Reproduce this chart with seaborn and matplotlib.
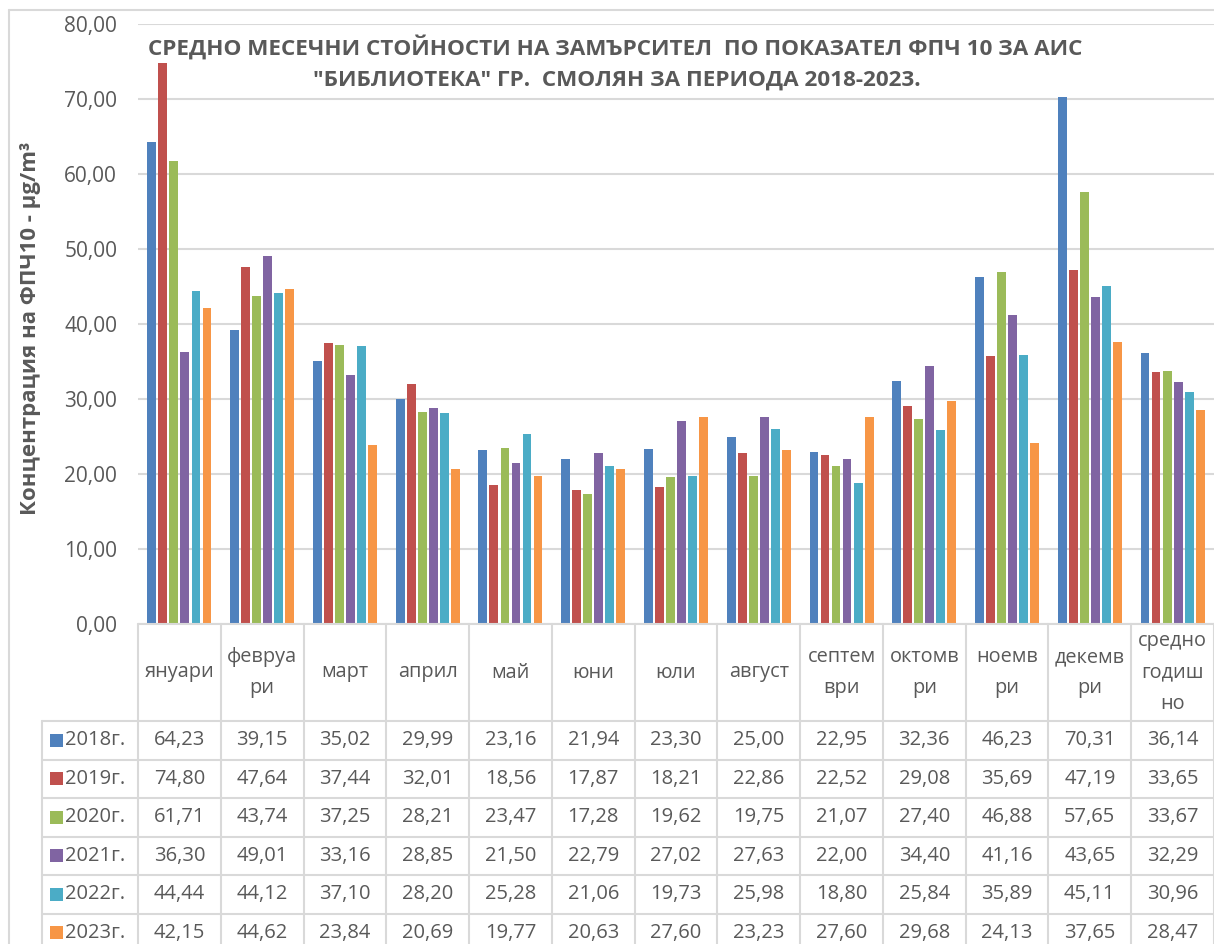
import matplotlib
matplotlib.use("Agg")
import matplotlib.pyplot as plt
import matplotlib.transforms as mtransforms
from matplotlib.lines import Line2D
from matplotlib.patches import Rectangle
import seaborn as sns
import pandas as pd

# ---------------- data ----------------
months = ["януари", "февруари", "март", "април", "май", "юни", "юли", "август",
          "септември", "октомври", "ноември", "декември", "средно годишно"]
month_labels = ["януари", "февруа\nри", "март", "април", "май", "юни", "юли", "август",
                "септем\nври", "октомв\nри", "ноемв\nри", "декемв\nри", "средно\nгодиш\nно"]
years = ["2018г.", "2019г.", "2020г.", "2021г.", "2022г.", "2023г."]

v2018 = [64.23, 39.15, 35.02, 29.99, 23.16, 21.94, 23.30, 25.00, 22.95, 32.36, 46.23, 70.31, 36.14]
v2019 = [74.80, 47.64, 37.44, 32.01, 18.56, 17.87, 18.21, 22.86, 22.52, 29.08, 35.69, 47.19, 33.65]
v2020 = [61.71, 43.74, 37.25, 28.21, 23.47, 17.28, 19.62, 19.75, 21.07, 27.40, 46.88, 57.65, 33.67]
v2021 = [36.30, 49.01, 33.16, 28.85, 21.50, 22.79, 27.02, 27.63, 22.00, 34.40, 41.16, 43.65, 32.29]
v2022 = [44.44, 44.12, 37.10, 28.20, 25.28, 21.06, 19.73, 25.98, 18.80, 25.84, 35.89, 45.11, 30.96]
v2023 = [42.15, 44.62, 23.84, 20.69, 19.77, 20.63, 27.60, 23.23, 27.60, 29.68, 24.13, 37.65, 28.47]
series = [v2018, v2019, v2020, v2021, v2022, v2023]

colors = ["#4F81BD", "#C0504D", "#9BBB59", "#8064A2", "#4BACC6", "#F79646"]
title_lines = ["СРЕДНО МЕСЕЧНИ СТОЙНОСТИ НА ЗАМЪРСИТЕЛ  ПО ПОКАЗАТЕЛ ФПЧ 10 ЗА АИС",
               "\"БИБЛИОТЕКА\" ГР.  СМОЛЯН ЗА ПЕРИОДА 2018-2023."]
ylabel = "Концентрация на ФПЧ10 - μg/m³"

rows = []
for y, vals in zip(years, series):
    for m, v in zip(months, vals):
        rows.append({"month": m, "year": y, "value": v})
df = pd.DataFrame(rows)

# ---------------- figure ----------------
sns.set_theme(style="white")
plt.rcParams["font.family"] = ["Open Sans", "DejaVu Sans"]
TXT = "#595959"
GRID = "#D9D9D9"

W, H = 1214, 944
fig = plt.figure(figsize=(W / 100, H / 100), dpi=100)
fig.patch.set_facecolor("white")

def fx(px):
    return px / W

def fy(py):
    return 1 - py / H

ax_left, ax_right, ax_top, ax_bot = 138, 1214, 24, 624
ax = fig.add_axes([fx(ax_left), fy(ax_bot), fx(ax_right - ax_left), (ax_bot - ax_top) / H])

sns.barplot(data=df, x="month", y="value", hue="year", order=months, hue_order=years,
            palette=colors, width=0.8, gap=0.2, saturation=1, linewidth=0,
            errorbar=None, legend=False, ax=ax)

ax.set_ylim(0, 80)
ax.set_xlim(-0.5, len(months) - 0.5)
ax.set_yticks(range(0, 81, 10))
ax.set_yticklabels([f"{v:.2f}".replace(".", ",") for v in range(0, 81, 10)],
                   fontsize=15, color=TXT)
ax.set_xticks([])
ax.set_xlabel("")
ax.set_ylabel("")
ax.tick_params(axis="y", length=0, pad=15)
ax.yaxis.grid(True, color=GRID, linewidth=1.5)
ax.set_axisbelow(True)
for s in ax.spines.values():
    s.set_visible(False)

# y label
fig.text(fx(31), fy(328), ylabel, rotation=90, ha="center", va="center",
         fontsize=16, fontweight="bold", color=TXT)

# title
fig.text(fx(615), fy(47), title_lines[0], ha="center", va="center",
         fontsize=16.2, fontweight="bold", color=TXT)
fig.text(fx(617), fy(80), title_lines[1], ha="center", va="center",
         fontsize=16.2, fontweight="bold", color=TXT)

# chart area border
fig.add_artist(Line2D([fx(9), fx(9)], [fy(10), fy(H + 5)], transform=fig.transFigure,
                      color=GRID, lw=1.5))
fig.add_artist(Line2D([fx(9), fx(W + 5)], [fy(10), fy(10)], transform=fig.transFigure,
                      color=GRID, lw=1.5))

# ---------------- data table ----------------
blend = mtransforms.blended_transform_factory(ax.transData, fig.transFigure)
header_top, header_bot = 624, 721
row_h = 38.5
leg_left = 42

fig.add_artist(Line2D([-0.5, len(months) - 0.5], [fy(header_top)] * 2, transform=blend,
                      color=GRID, lw=1.5, clip_on=False))
for i in range(len(months) + 1):
    xb = i - 0.5
    fig.add_artist(Line2D([xb, xb], [fy(header_top), fy(H + 5)], transform=blend,
                          color=GRID, lw=1.5, clip_on=False))
fig.add_artist(Line2D([fx(leg_left)] * 2, [fy(header_bot), fy(H + 5)],
                      transform=fig.transFigure, color=GRID, lw=1.5))
for r in range(len(years) + 1):
    yy = header_bot + r * row_h
    fig.add_artist(Line2D([fx(leg_left), fx(W + 5)], [fy(yy)] * 2,
                          transform=fig.transFigure, color=GRID, lw=1.5))

for i, lab in enumerate(month_labels):
    fig.text(i, fy((header_top + header_bot) / 2), lab, transform=blend,
             ha="center", va="center", fontsize=14.3, color=TXT, linespacing=1.75,
             multialignment="center")

for r, (yname, vals, col) in enumerate(zip(years, series, colors)):
    yc = header_bot + (r + 0.5) * row_h
    fig.add_artist(Rectangle((fx(50), fy(yc + 6.5)), fx(13), 13 / H,
                             transform=fig.transFigure, facecolor=col, edgecolor="none"))
    fig.text(fx(65), fy(yc), yname, ha="left", va="center", fontsize=14.5, color=TXT)
    for i, v in enumerate(vals):
        fig.text(i, fy(yc), f"{v:.2f}".replace(".", ","), transform=blend,
                 ha="center", va="center", fontsize=14.5, color=TXT)

fig.savefig("out.png", dpi=100)
